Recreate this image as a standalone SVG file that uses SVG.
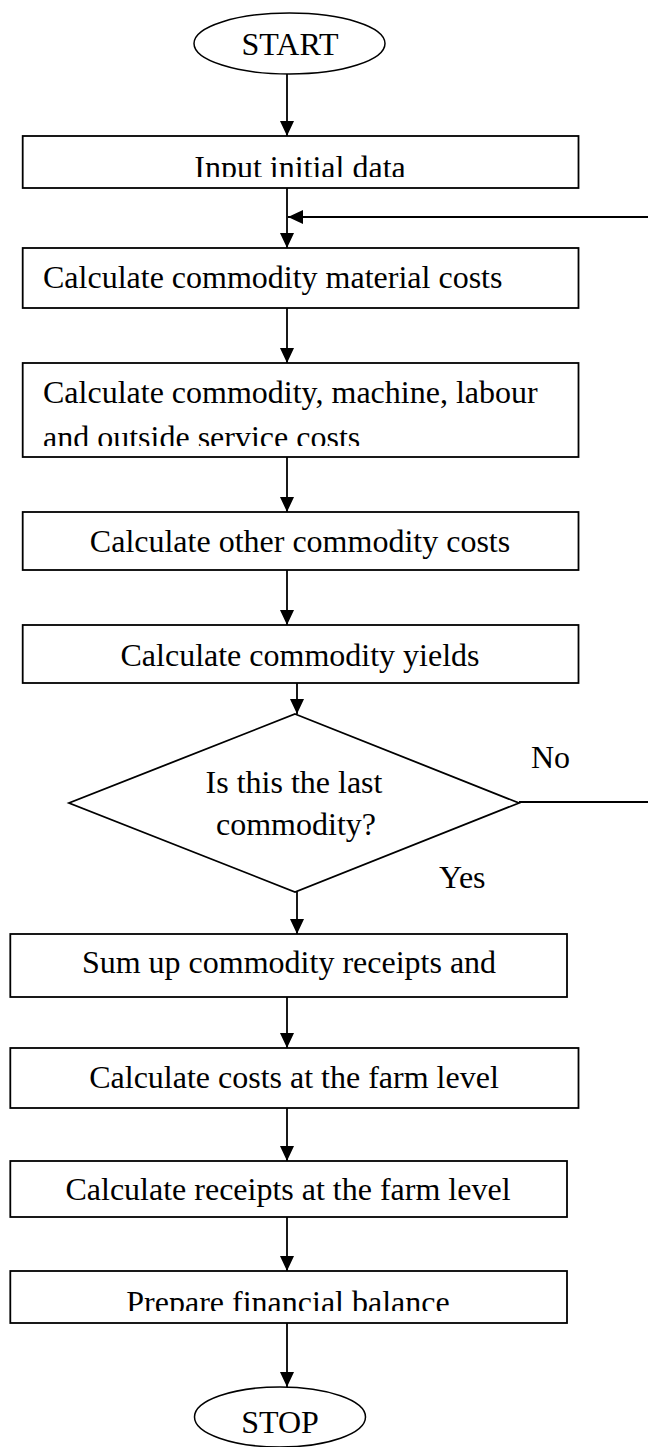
<svg xmlns="http://www.w3.org/2000/svg" width="648" height="1447" viewBox="0 0 648 1447">
  <style>
    .box { fill: #fff; stroke: #000; stroke-width: 1.8; }
    .term { fill: #fff; stroke: #000; stroke-width: 1.5; }
    .lbl { font-size: 32px; fill: #000; }
    .mid { text-anchor: middle; }
    .wire { fill: none; stroke: #000; stroke-width: 1.8; }
  </style>
  <defs>
    <marker id="head" markerUnits="userSpaceOnUse" markerWidth="16" markerHeight="14" refX="15" refY="7" orient="auto">
      <path d="M0,0 L15,7 L0,14 Z" fill="#000"/>
    </marker>
    <!-- text lines whose lower part is hidden by the box edge -->
    <clipPath id="cut-input"><rect x="0" y="140" width="648" height="37"/></clipPath>
    <clipPath id="cut-service"><rect x="0" y="410" width="648" height="36"/></clipPath>
    <clipPath id="cut-balance"><rect x="0" y="1275" width="648" height="36"/></clipPath>
  </defs>

  <rect width="648" height="1447" fill="#fff"/>

  <g id="connectors">
    <line class="wire" x1="287" y1="74" x2="287" y2="136" marker-end="url(#head)"/>
    <line class="wire" x1="287" y1="188" x2="287" y2="248" marker-end="url(#head)"/>
    <line class="wire" x1="648" y1="217" x2="288" y2="217" marker-end="url(#head)"/>
    <line class="wire" x1="287" y1="308" x2="287" y2="363" marker-end="url(#head)"/>
    <line class="wire" x1="287" y1="457" x2="287" y2="512" marker-end="url(#head)"/>
    <line class="wire" x1="287" y1="570" x2="287" y2="625" marker-end="url(#head)"/>
    <line class="wire" x1="297" y1="683" x2="297" y2="714" marker-end="url(#head)"/>
    <line class="wire" x1="519" y1="802" x2="648" y2="802"/>
    <line class="wire" x1="297" y1="892" x2="297" y2="934" marker-end="url(#head)"/>
    <line class="wire" x1="287" y1="997" x2="287" y2="1048" marker-end="url(#head)"/>
    <line class="wire" x1="287" y1="1108" x2="287" y2="1161" marker-end="url(#head)"/>
    <line class="wire" x1="287" y1="1217" x2="287" y2="1271" marker-end="url(#head)"/>
    <line class="wire" x1="287" y1="1323" x2="287" y2="1387" marker-end="url(#head)"/>
  </g>

  <g font-family="'Liberation Serif', 'Times New Roman', Times, serif">
  <g id="start">
    <ellipse class="term" cx="289.5" cy="43.5" rx="95.5" ry="30.5"/>
    <text class="lbl mid" x="290" y="55">START</text>
  </g>

  <g id="input-data">
    <rect class="box" x="22.7" y="136" width="555.8" height="52"/>
    <text class="lbl mid" x="300" y="178" clip-path="url(#cut-input)">Input initial data</text>
  </g>

  <g id="material-costs">
    <rect class="box" x="22.7" y="248" width="555.8" height="60"/>
    <text class="lbl" x="43" y="288">Calculate commodity material costs</text>
  </g>

  <g id="machine-labour-costs">
    <rect class="box" x="22.7" y="363" width="555.8" height="94"/>
    <text class="lbl" x="43" y="403">Calculate commodity, machine, labour</text>
    <text class="lbl" x="43" y="448" clip-path="url(#cut-service)">and outside service costs</text>
  </g>

  <g id="other-costs">
    <rect class="box" x="22.7" y="512" width="555.8" height="58"/>
    <text class="lbl mid" x="300" y="552">Calculate other commodity costs</text>
  </g>

  <g id="yields">
    <rect class="box" x="22.7" y="625" width="555.8" height="58"/>
    <text class="lbl mid" x="300" y="666">Calculate commodity yields</text>
  </g>

  <g id="last-commodity">
    <polygon class="box" points="295,714 519,803 295,892 69,803"/>
    <text class="lbl mid" x="294" y="793">Is this the last</text>
    <text class="lbl mid" x="296" y="835">commodity?</text>
    <text class="lbl" x="531" y="768">No</text>
    <text class="lbl" x="439" y="888">Yes</text>
  </g>

  <g id="sum-receipts">
    <rect class="box" x="10.3" y="934" width="556.7" height="63"/>
    <text class="lbl mid" x="289" y="973">Sum up commodity receipts and</text>
  </g>

  <g id="farm-costs">
    <rect class="box" x="10.3" y="1048" width="568.2" height="60"/>
    <text class="lbl mid" x="294" y="1088">Calculate costs at the farm level</text>
  </g>

  <g id="farm-receipts">
    <rect class="box" x="10.3" y="1161" width="556.7" height="56"/>
    <text class="lbl mid" x="288" y="1200">Calculate receipts at the farm level</text>
  </g>

  <g id="financial-balance">
    <rect class="box" x="10.3" y="1271" width="556.7" height="52"/>
    <text class="lbl mid" x="288" y="1313" clip-path="url(#cut-balance)">Prepare financial balance</text>
  </g>

  <g id="stop">
    <ellipse class="term" cx="280" cy="1417" rx="85.5" ry="30"/>
    <text class="lbl mid" x="280" y="1433">STOP</text>
  </g>
  </g>
</svg>
